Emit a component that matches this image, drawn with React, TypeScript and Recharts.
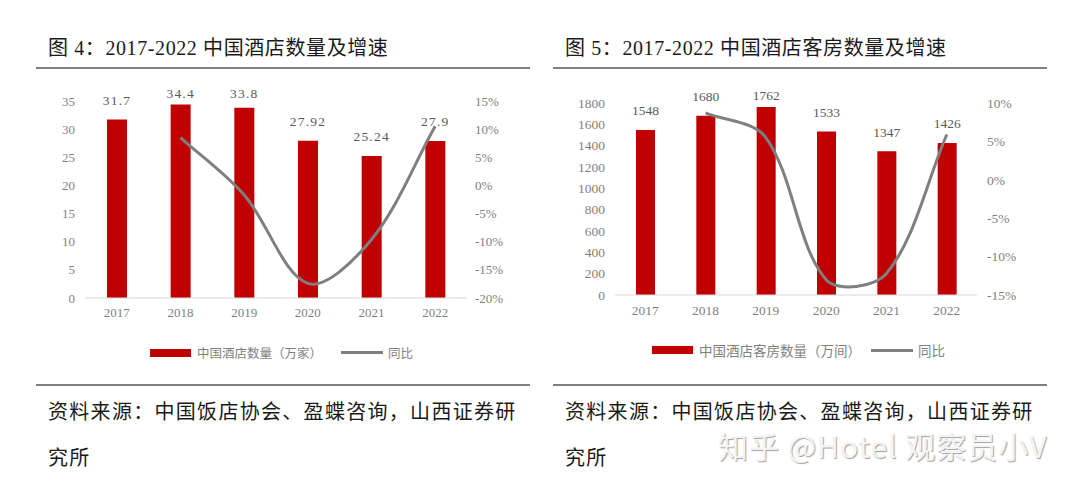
import React from 'react';
import { Bar, ComposedChart, LabelList, Legend, Line, XAxis, YAxis } from 'recharts';

const years = ['2017', '2018', '2019', '2020', '2021', '2022'];

// 图 4
const hotelCount = [31.7, 34.4, 33.8, 27.92, 25.24, 27.9];
const hotelGrowth = [null, 0.085, -0.017, -0.174, -0.096, 0.105];
const hotelTicks = [0, 5, 10, 15, 20, 25, 30, 35];
const hotelPctTicks = [-0.2, -0.15, -0.1, -0.05, 0, 0.05, 0.1, 0.15];

// 图 5
const roomCount = [1548, 1680, 1762, 1533, 1347, 1426];
const roomGrowth = [null, 0.087, 0.055, -0.13, -0.122, 0.059];
const roomTicks = [0, 200, 400, 600, 800, 1000, 1200, 1400, 1600, 1800];
const roomPctTicks = [-0.15, -0.1, -0.05, 0, 0.05, 0.1];

const RED = '#c00000';
const GREY_LINE = '#7f7f7f';
const TICK = '#7f7f7f';
const SERIF = '"Liberation Serif", "Noto Sans CJK SC", serif';
const SANS = '"Noto Sans CJK SC", "Noto Sans", sans-serif';

const hotelRows = years.map((year, i) => ({ year, count: hotelCount[i], growth: hotelGrowth[i] }));
const roomRows = years.map((year, i) => ({ year, count: roomCount[i], growth: roomGrowth[i] }));

const pct = (v: number) => `${Math.round(v * 100)}%`;

// excel-ish smoothed line: catmull-rom tangents, scaled by chord length so it doesn't overshoot much
function smoothCurve(context: any) {
  let pts: [number, number][] = [];
  const dist = (a: [number, number], b: [number, number]) => Math.hypot(b[0] - a[0], b[1] - a[1]);
  return {
    areaStart() {},
    areaEnd() {},
    lineStart() {
      pts = [];
    },
    lineEnd() {
      if (!pts.length) return;
      context.moveTo(pts[0][0], pts[0][1]);
      for (let i = 0; i < pts.length - 1; i++) {
        const p0 = pts[i - 1] || pts[i];
        const p1 = pts[i];
        const p2 = pts[i + 1];
        const p3 = pts[i + 2] || p2;
        const d01 = dist(p0, p1);
        const d12 = dist(p1, p2);
        const d23 = dist(p2, p3);
        const k1 = d12 / (d01 + d12 || 1) / 3;
        const k2 = d12 / (d12 + d23 || 1) / 3;
        const a1 = i === 0 ? 1 / 3 : k1;
        const a2 = i === pts.length - 2 ? 1 / 3 : k2;
        context.bezierCurveTo(
          p1[0] + (p2[0] - p0[0]) * a1,
          p1[1] + (p2[1] - p0[1]) * a1,
          p2[0] - (p3[0] - p1[0]) * a2,
          p2[1] - (p3[1] - p1[1]) * a2,
          p2[0],
          p2[1],
        );
      }
    },
    point(x: number, y: number) {
      pts.push([+x, +y]);
    },
  };
}

function valueLabel(minY: number, font: string, spacing: number) {
  return (props: any) => {
    const { x, y, width, value } = props;
    const cy = Math.max(Number(y) - 19, minY);
    return (
      <text
        x={Number(x) + Number(width) / 2}
        y={cy}
        textAnchor="middle"
        dominantBaseline="central"
        fill="#595959"
        fontSize={13.5}
        fontFamily={font}
        letterSpacing={spacing}
      >
        {value}
      </text>
    );
  };
}

function legendContent(fontSize: number, textGap: number) {
  return (props: any) => {
    const items = [...(props.payload || [])].sort((a: any) => (a.type === 'rect' ? -1 : 1));
    return (
      <div style={{ display: 'flex', alignItems: 'center', fontFamily: SANS, fontSize, color: '#7f7f7f', whiteSpace: 'nowrap' }}>
        {items.map((it: any) => (
          <div key={it.value} style={{ display: 'flex', alignItems: 'center', marginRight: textGap }}>
            {it.type === 'rect' ? (
              <div style={{ width: 41, height: 8, background: RED, marginRight: 6 }} />
            ) : (
              <div style={{ width: 42, height: 3, background: GREY_LINE, marginRight: 5 }} />
            )}
            <span>{it.value}</span>
          </div>
        ))}
      </div>
    );
  };
}

const tickStyle = { fill: TICK, fontSize: 13, fontFamily: SERIF };

function Panel({ left, title }: { left: number; title: string }) {
  return (
    <>
      <div style={{ position: 'absolute', left: left + 12, top: 32, fontFamily: SERIF, fontSize: 20, letterSpacing: 0.6, color: '#1a1a1a', whiteSpace: 'nowrap' }}>
        {title}
      </div>
      <div style={{ position: 'absolute', left, top: 67, width: 494, height: 2, background: '#808080' }} />
      <div style={{ position: 'absolute', left, top: 384, width: 494, height: 2, background: '#808080' }} />
      <div style={{ position: 'absolute', left: left + 12, top: 388, fontFamily: SANS, fontSize: 20, letterSpacing: 1.3, lineHeight: '46px', color: '#1a1a1a', whiteSpace: 'nowrap' }}>
        资料来源：中国饭店协会、盈蝶咨询，山西证券研
        <br />
        究所
      </div>
    </>
  );
}

function HotelChart() {
  return (
    <div style={{ position: 'absolute', left: 30, top: 80 }}>
      <ComposedChart width={480} height={300} data={hotelRows} margin={{ top: 21, right: 0, bottom: 52, left: 0 }} barSize={20}>
        <XAxis dataKey="year" tick={tickStyle} tickLine={false} axisLine={{ stroke: '#d9d9d9' }} tickMargin={4} height={30} />
        <YAxis yAxisId="l" domain={[0, 35]} ticks={hotelTicks} tick={tickStyle} tickLine={false} axisLine={false} tickMargin={4} width={55} interval={0} />
        <YAxis yAxisId="r" orientation="right" domain={[-0.2, 0.15]} ticks={hotelPctTicks} tickFormatter={pct} tick={tickStyle} tickLine={false} axisLine={false} tickMargin={2} width={43} interval={0} />
        <Bar yAxisId="l" dataKey="count" name="中国酒店数量（万家）" fill={RED} isAnimationActive={false}>
          <LabelList dataKey="count" content={valueLabel(13, '"Liberation Serif", serif', 1.2)} />
        </Bar>
        <Line yAxisId="r" dataKey="growth" name="同比" type={smoothCurve as any} stroke={GREY_LINE} strokeWidth={3} dot={false} activeDot={false} isAnimationActive={false} />
        <Legend verticalAlign="middle" align="center" wrapperStyle={{ top: 263, left: 120, width: 'auto' }} content={legendContent(12.5, 19)} />
      </ComposedChart>
    </div>
  );
}

function RoomChart() {
  return (
    <div style={{ position: 'absolute', left: 550, top: 80 }}>
      <ComposedChart width={500} height={300} data={roomRows} margin={{ top: 23, right: 0, bottom: 55, left: 0 }} barSize={19}>
        <XAxis dataKey="year" tick={{ ...tickStyle, fontSize: 13.5 }} tickLine={false} axisLine={{ stroke: '#d9d9d9' }} tickMargin={4} height={30} />
        <YAxis yAxisId="l" domain={[0, 1800]} ticks={roomTicks} tick={{ ...tickStyle, fontSize: 13.5 }} tickLine={false} axisLine={false} tickMargin={4} width={65} interval={0} />
        <YAxis yAxisId="r" orientation="right" domain={[-0.15, 0.1]} ticks={roomPctTicks} tickFormatter={pct} tick={{ ...tickStyle, fontSize: 13.5 }} tickLine={false} axisLine={false} tickMargin={4} width={73} interval={0} />
        <Bar yAxisId="l" dataKey="count" name="中国酒店客房数量（万间）" fill={RED} isAnimationActive={false}>
          <LabelList dataKey="count" content={valueLabel(15, '"Liberation Serif", serif', 0)} />
        </Bar>
        <Line yAxisId="r" dataKey="growth" name="同比" type={smoothCurve as any} stroke={GREY_LINE} strokeWidth={3} dot={false} activeDot={false} isAnimationActive={false} />
        <Legend verticalAlign="middle" align="center" wrapperStyle={{ top: 260, left: 102, width: 'auto' }} content={legendContent(13.5, 10)} />
      </ComposedChart>
    </div>
  );
}

export default function App() {
  return (
    <div style={{ position: 'absolute', left: 0, top: 0, width: 1080, height: 492, background: '#fff', overflow: 'hidden' }}>
      <Panel left={36} title="图 4：2017-2022 中国酒店数量及增速" />
      <Panel left={553} title="图 5：2017-2022 中国酒店客房数量及增速" />
      <HotelChart />
      <RoomChart />
      <div
        style={{
          position: 'absolute',
          left: 718,
          top: 425,
          fontFamily: SANS,
          fontSize: 30,
          letterSpacing: 1,
          color: '#f4f4f4',
          textShadow: '1px 1px 1px #a0a0a0',
          whiteSpace: 'nowrap',
          lineHeight: '40px',
        }}
      >
        知乎 @Hotel 观察员小V
      </div>
    </div>
  );
}
